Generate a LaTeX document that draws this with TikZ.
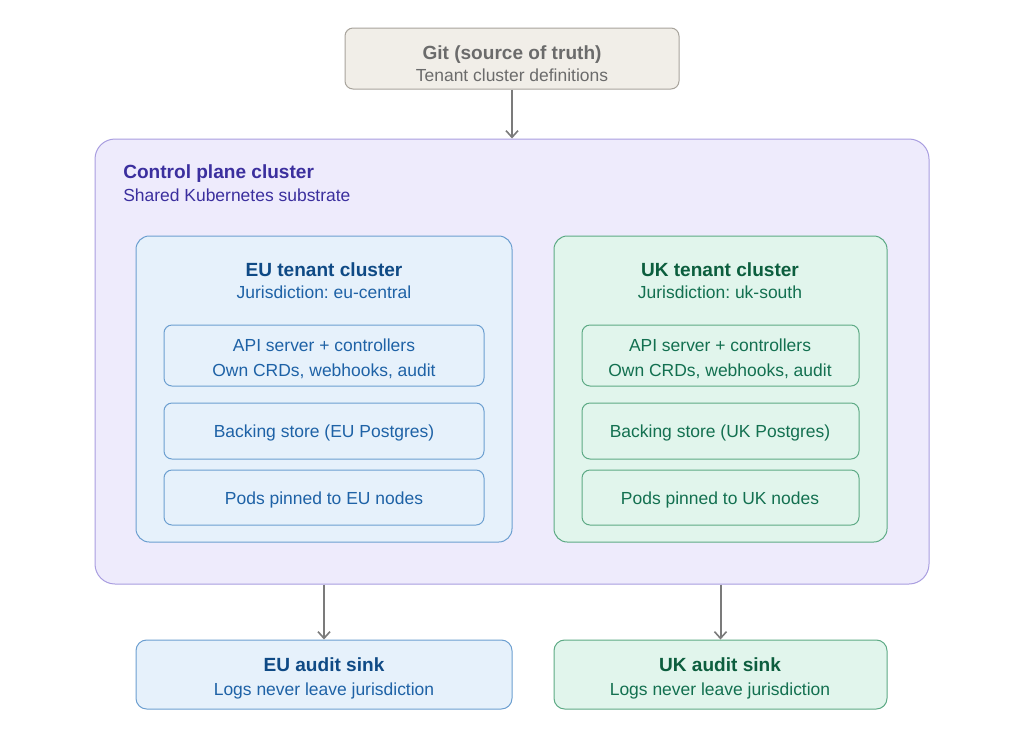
\documentclass[tikz,border=0pt]{standalone}
\usepackage{fontspec}
\setmainfont{Liberation Sans}
\frenchspacing
\usetikzlibrary{fit,arrows.meta}
\definecolor{gitfill}{HTML}{F1EEE8}
\definecolor{gitline}{HTML}{A8A49C}
\definecolor{gittext}{HTML}{6B6B6B}
\definecolor{cpfill}{HTML}{EEEBFC}
\definecolor{cpline}{HTML}{A99EE0}
\definecolor{cptext}{HTML}{3B2F9E}
\definecolor{eufill}{HTML}{E6F1FB}
\definecolor{euline}{HTML}{6C9FD0}
\definecolor{eutitle}{HTML}{0F4A85}
\definecolor{eutext}{HTML}{1E62A6}
\definecolor{ukfill}{HTML}{E1F5EC}
\definecolor{ukline}{HTML}{5DAA85}
\definecolor{uktitle}{HTML}{0C5E3E}
\definecolor{uktext}{HTML}{137050}
\definecolor{arrowc}{HTML}{7B7B7B}
\tikzset{
  frame/.style={inner sep=0pt, line width=0.75pt},
  gitbox/.style={frame, draw=gitline, fill=gitfill, rounded corners=6pt},
  cpbox/.style={frame, draw=cpline, fill=cpfill, rounded corners=15pt},
  eubox/.style={frame, draw=euline, fill=eufill, rounded corners=10pt},
  ukbox/.style={frame, draw=ukline, fill=ukfill, rounded corners=10pt},
  euinner/.style={frame, draw=euline, fill=eufill, rounded corners=6pt},
  ukinner/.style={frame, draw=ukline, fill=ukfill, rounded corners=6pt},
  ttl/.style={inner sep=0pt, anchor=base, yshift=-5pt, font=\fontsize{14.3}{17}\selectfont\bfseries},
  sub/.style={inner sep=0pt, anchor=base, yshift=-4.6pt, font=\fontsize{13.1}{16}\selectfont},
  flow/.style={draw=arrowc, line width=1.5pt, -{Straight Barb[length=5pt,width=9pt,line width=1.2pt]}},
}
\begin{document}
\begin{tikzpicture}[x=0.75pt,y=-0.75pt]
\useasboundingbox (0,0) rectangle (1024,751);
\fill[white] (0,0) rectangle (1024,751);
% Git
\node[gitbox, fit={(345,28) (679,89)}] (git) {};
\node[ttl, text=gittext] (gitT) at (512,53) {Git (source of truth)};
\node[sub, text=gittext] (gitS) at (512,75) {Tenant cluster definitions};
% Control plane
\node[cpbox, fit={(95,139) (929,584)}] (cp) {};
\node[ttl, text=cptext, anchor=base west] (cpT) at (123,172) {Control plane cluster};
\node[sub, text=cptext, anchor=base west] (cpS) at (123,195) {Shared Kubernetes substrate};
% EU tenant
\node[eubox, fit={(136,236) (512,542)}] (eu) {};
\node[ttl, text=eutitle] (euT) at (324,270) {EU tenant cluster};
\node[sub, text=eutext] (euS) at (324,292) {Jurisdiction: eu-central};
\node[euinner, fit={(164,325) (484,386)}] (euA) {};
\node[sub, text=eutext] (euA1) at (324,345) {API server + controllers};
\node[sub, text=eutext] (euA2) at (324,370) {Own CRDs, webhooks, audit};
\node[euinner, fit={(164,403) (484,459)}] (euB) {};
\node[sub, text=eutext] (euB1) at (324,431) {Backing store (EU Postgres)};
\node[euinner, fit={(164,470) (484,525)}] (euC) {};
\node[sub, text=eutext] (euC1) at (324,498) {Pods pinned to EU nodes};
% UK tenant
\node[ukbox, fit={(554,236) (887,542)}] (uk) {};
\node[ttl, text=uktitle] (ukT) at (720,270) {UK tenant cluster};
\node[sub, text=uktext] (ukS) at (720,292) {Jurisdiction: uk-south};
\node[ukinner, fit={(582,325) (859,386)}] (ukA) {};
\node[sub, text=uktext] (ukA1) at (720,345) {API server + controllers};
\node[sub, text=uktext] (ukA2) at (720,370) {Own CRDs, webhooks, audit};
\node[ukinner, fit={(582,403) (859,459)}] (ukB) {};
\node[sub, text=uktext] (ukB1) at (720,431) {Backing store (UK Postgres)};
\node[ukinner, fit={(582,470) (859,525)}] (ukC) {};
\node[sub, text=uktext] (ukC1) at (720,498) {Pods pinned to UK nodes};
% Audit sinks
\node[eubox, rounded corners=8pt, fit={(136,640) (512,709)}] (euSink) {};
\node[ttl, text=eutitle] (euSinkT) at (324,665) {EU audit sink};
\node[sub, text=eutext] (euSinkS) at (324,689) {Logs never leave jurisdiction};
\node[ukbox, rounded corners=8pt, fit={(554,640) (887,709)}] (ukSink) {};
\node[ttl, text=uktitle] (ukSinkT) at (720,665) {UK audit sink};
\node[sub, text=uktext] (ukSinkS) at (720,689) {Logs never leave jurisdiction};
% Connectors
\draw[flow] (git.south) -- (cp.north -| git.south);
\draw[flow] (cp.south -| euSink.north) -- (euSink.north);
\draw[flow] (cp.south -| ukSink.north) -- (ukSink.north);
\end{tikzpicture}
\end{document}
